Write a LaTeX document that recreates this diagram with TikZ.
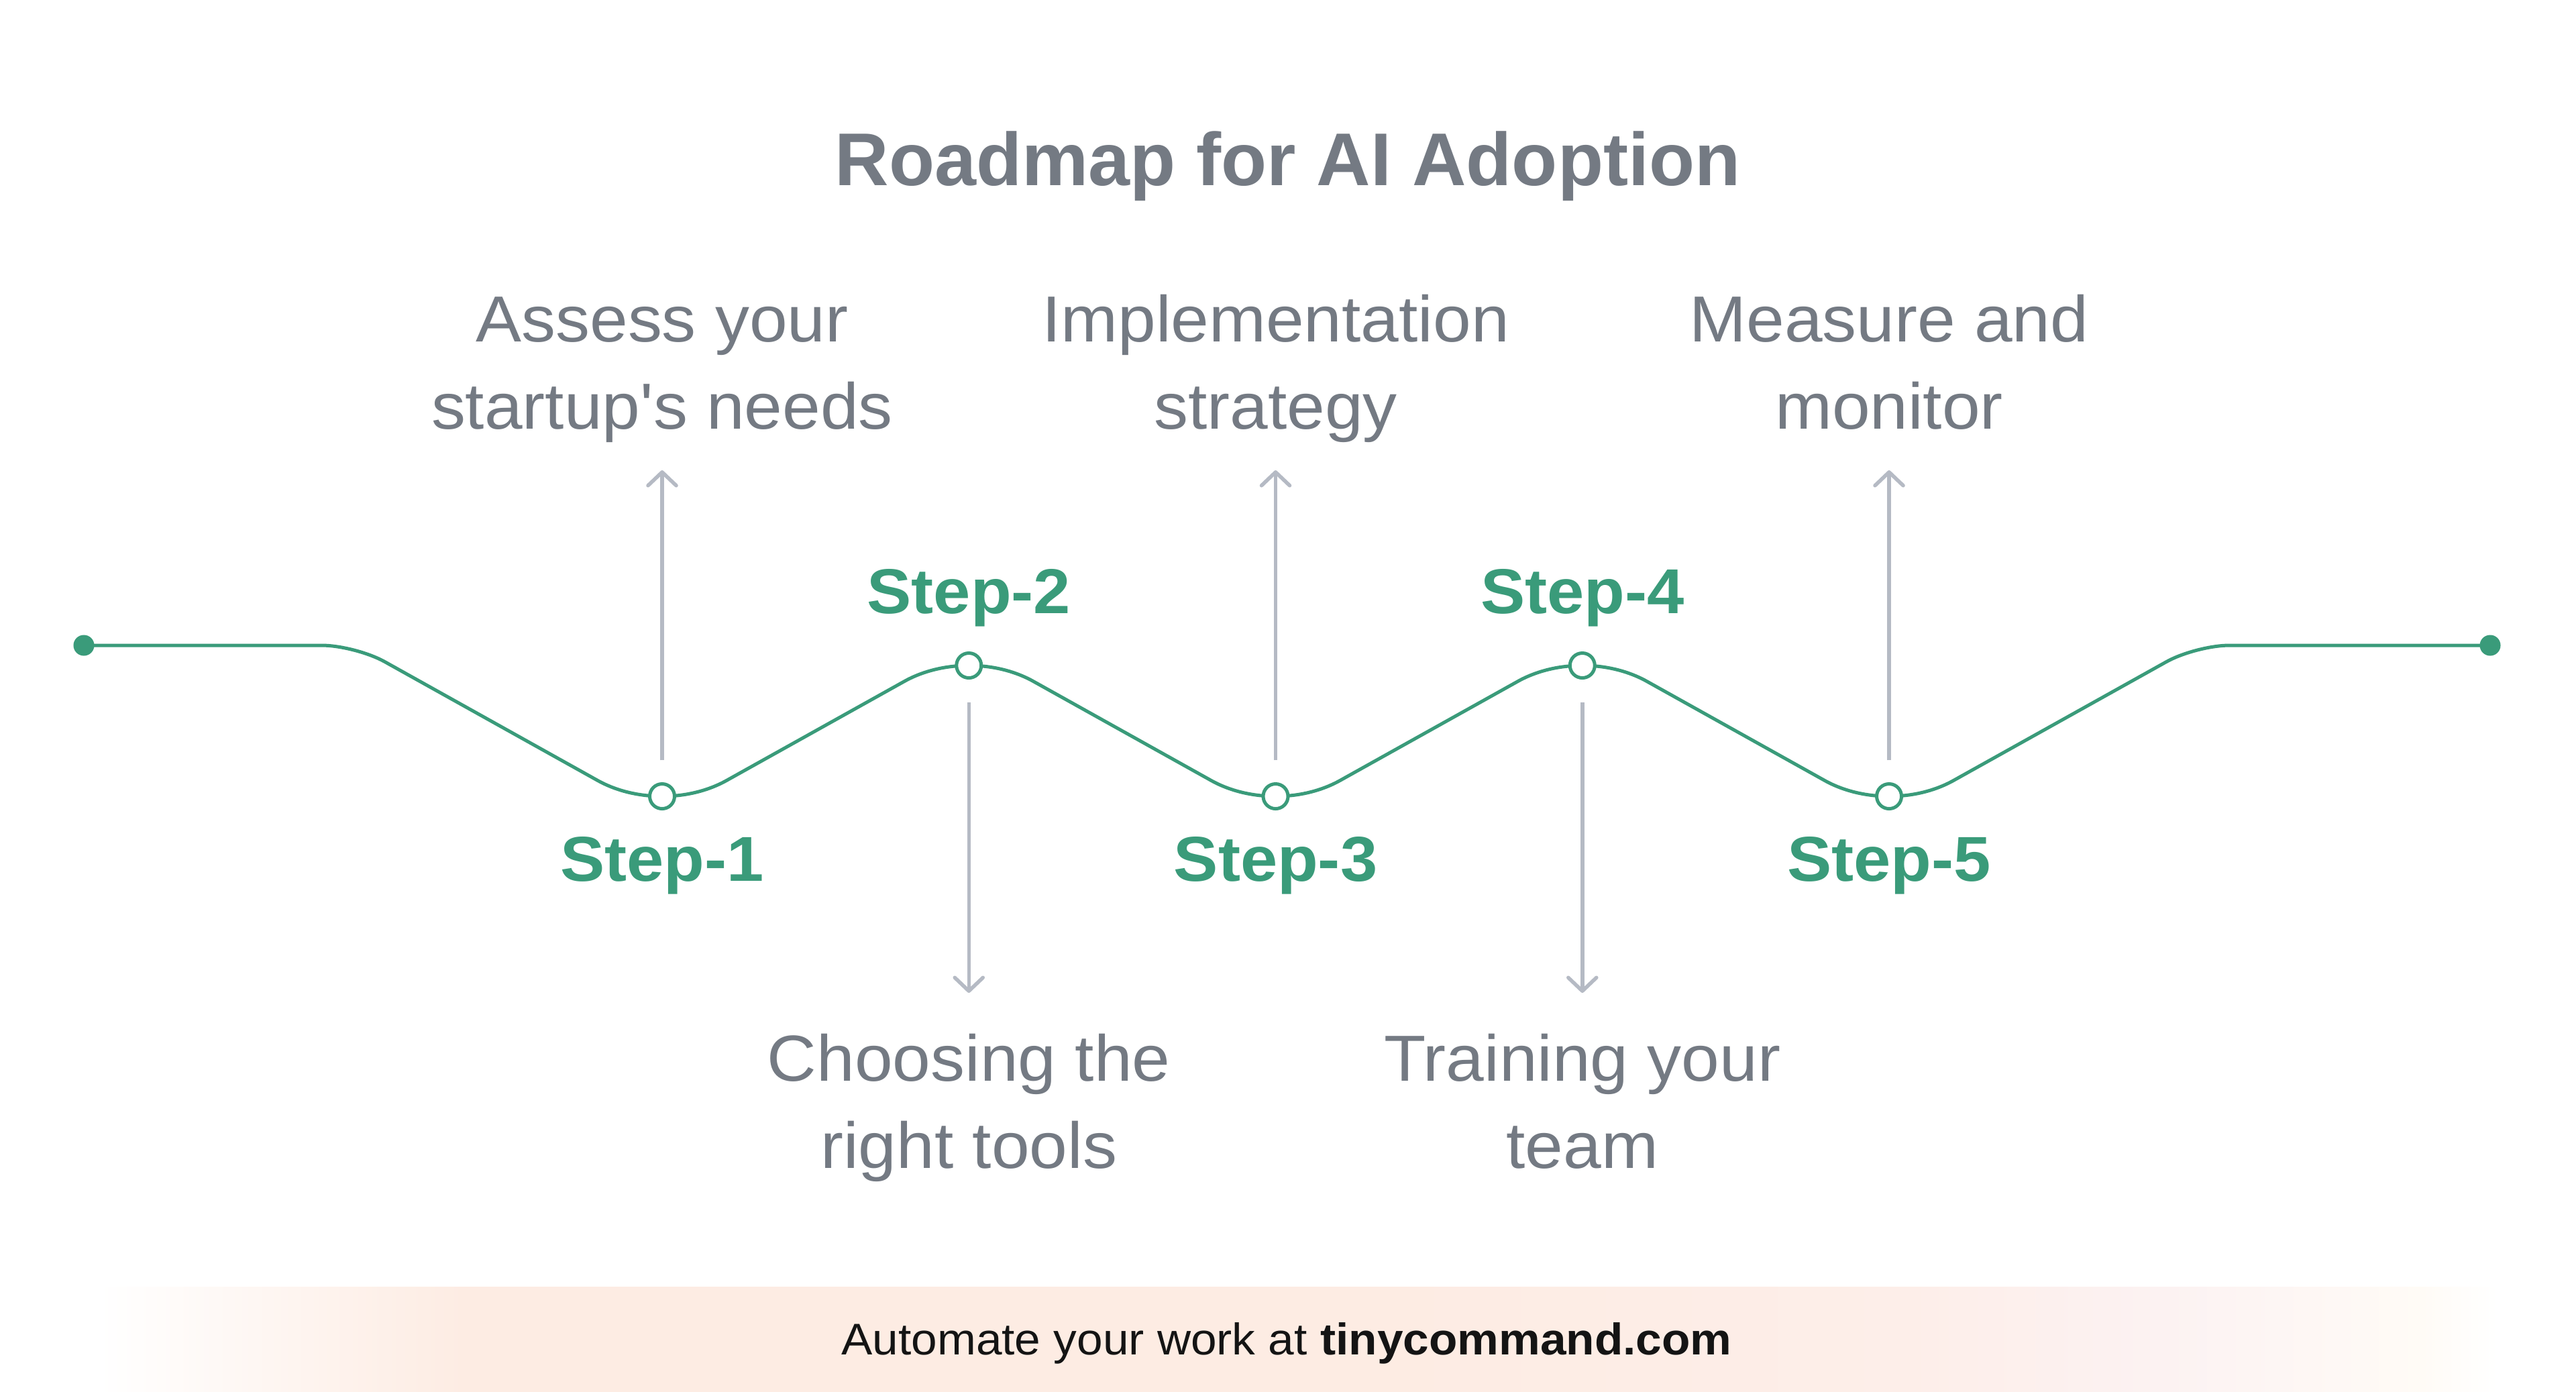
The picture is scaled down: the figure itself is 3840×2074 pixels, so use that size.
\documentclass[tikz,border=0pt]{standalone}
\usepackage{fontspec}
\setmainfont{Liberation Sans}[FakeStretch=1.05,Ligatures=TeXOff]
\newfontfamily\titlefont{Liberation Sans}[Ligatures=TeXOff]
\usetikzlibrary{arrows.meta,calc}
\definecolor{grn}{RGB}{58,155,122}
\definecolor{txtgray}{RGB}{116,122,131}
\definecolor{arrgray}{RGB}{181,186,196}
\definecolor{peach}{RGB}{253,236,227}
\definecolor{peachb}{RGB}{253,238,233}
\definecolor{pinkish}{RGB}{252,242,242}
\definecolor{cream}{RGB}{255,251,246}
\pgfdeclarehorizontalshading{footershade}{100bp}{color(0bp)=(white); color(25bp)=(white); color(26.9bp)=(white); color(34bp)=(peach); color(52bp)=(peach); color(62bp)=(peachb); color(67bp)=(pinkish); color(72bp)=(cream); color(73.5bp)=(white); color(75bp)=(white); color(100bp)=(white)}
\begin{document}
\begin{tikzpicture}[x=0.01cm,y=-0.01cm,
  road/.style={draw=grn,line width=0.05cm},
  stepdot/.style={circle,draw=grn,fill=white,line width=0.05cm,minimum size=0.37cm,inner sep=0pt},
  enddot/.style={circle,fill=grn,minimum size=0.31cm,inner sep=0pt},
  steplabel/.style={text=grn,font=\fontsize{26.9}{30}\selectfont\bfseries,anchor=base,inner sep=0pt},
  desc/.style={text=txtgray,font=\fontsize{27.6}{36.7}\selectfont,align=center,anchor=base,inner sep=0pt},
  conn/.style={draw=arrgray,line width=0.055cm,-{Straight Barb[length=0.2cm,width=0.42cm,round]}},
]
\useasboundingbox[fill=white] (0,0) rectangle (3840,2074);

% footer band
\fill[shading=footershade] (0,1918) rectangle (3840,2074);
\node[font=\fontsize{18.8}{22}\selectfont,text=black!92,anchor=base,inner sep=0pt] (foot) at (1918,2019) {Automate your work at \textbf{tinycommand.com}};

% title
\node[font=\titlefont\fontsize{31.7}{38}\selectfont\bfseries,text=txtgray,anchor=base,inner sep=0pt] (title) at (1919.5,276) {Roadmap for AI Adoption};

% road
\draw[road] (125,962) -- (479.75,962)
  .. controls (507.4,962) and (549.3,972.9) .. (573.42,986.36)
  -- (890.93,1163.42) .. controls (947.32,1194.87) and (1026.68,1194.87) .. (1083.07,1163.42)
  -- (1348.18,1015.58) .. controls (1404.57,984.13) and (1483.93,984.13) .. (1540.32,1015.58)
  -- (1805.43,1163.42) .. controls (1861.82,1194.87) and (1941.18,1194.87) .. (1997.57,1163.42)
  -- (2262.68,1015.58) .. controls (2319.07,984.13) and (2398.43,984.13) .. (2454.82,1015.58)
  -- (2719.93,1163.42) .. controls (2776.32,1194.87) and (2855.68,1194.87) .. (2912.07,1163.42)
  -- (3229.58,986.36) .. controls (3253.7,972.9) and (3295.6,962) .. (3323.25,962)
  -- (3712,962);

\node[enddot] (start) at (125,962) {};
\node[enddot] (finish) at (3712,962) {};

\node[stepdot] (s1) at (987,1187) {};
\node[stepdot] (s2) at (1444.25,992) {};
\node[stepdot] (s3) at (1901.5,1187) {};
\node[stepdot] (s4) at (2358.75,992) {};
\node[stepdot] (s5) at (2816,1187) {};

\node[steplabel] (st1) at (987,1313) {Step-1};
\node[steplabel] (st2) at (1444.25,914) {Step-2};
\node[steplabel] (st3) at (1901.5,1313) {Step-3};
\node[steplabel] (st4) at (2358.75,914) {Step-4};
\node[steplabel] (st5) at (2816,1313) {Step-5};

% base anchor of a two-line node = baseline of its last line
\node[desc] (l1) at (987,639) {Assess your\\startup's needs};
\node[desc] (l2) at (1444.25,1741) {Choosing the\\right tools};
\node[desc] (l3) at (1901.5,639) {Implementation\\strategy};
\node[desc] (l4) at (2358.75,1741) {Training your\\team};
\node[desc] (l5) at (2816,639) {Measure and\\monitor};

\coordinate (t1) at (987,701);
\coordinate (t2) at (1444.25,1480);
\coordinate (t3) at (1901.5,701);
\coordinate (t4) at (2358.75,1480);
\coordinate (t5) at (2816,701);

\draw[conn,shorten <=0.33cm] (s1) -- (t1);
\draw[conn,shorten <=0.34cm] (s2) -- (t2);
\draw[conn,shorten <=0.33cm] (s3) -- (t3);
\draw[conn,shorten <=0.34cm] (s4) -- (t4);
\draw[conn,shorten <=0.33cm] (s5) -- (t5);
\end{tikzpicture}
\end{document}
